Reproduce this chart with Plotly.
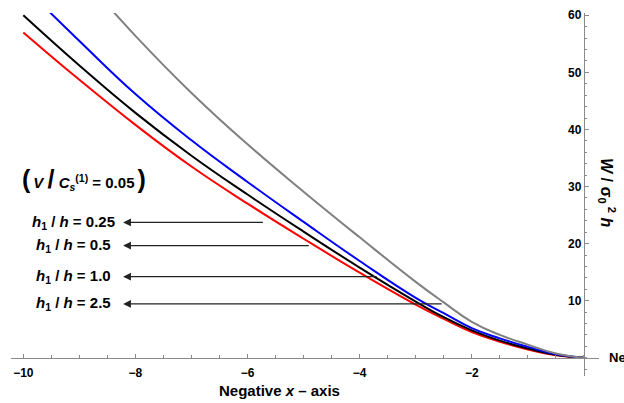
import plotly.graph_objects as go

# ---- data ----
x_vals = [-10, -9, -8, -7, -6, -5, -4, -3, -2.5, -2, -1.5, -1, -0.5, 0]
w_h025 = [57.0, 48.7, 40.8, 33.5, 27.0, 20.85, 14.9, 9.3, 6.8, 4.5, 2.8, 1.45, 0.42, 0]  # red
w_h05 = [60.0, 51.2, 42.9, 35.4, 28.6, 22.1, 15.8, 9.85, 7.1, 4.8, 3.0, 1.62, 0.5, 0]    # black
w_h10 = [65.1, 55.5, 46.2, 38.1, 30.8, 23.8, 16.95, 10.5, 7.8, 5.2, 3.4, 1.9, 0.6, 0]    # blue
w_h25 = [79.4, 67.4, 56.4, 46.4, 37.4, 29.1, 21.1, 13.3, 9.7, 6.3, 4.0, 2.3, 0.75, 0]    # gray

series = [
    ("h1/h=0.25", w_h025, "#ff0000"),
    ("h1/h=0.5", w_h05, "#000000"),
    ("h1/h=1.0", w_h10, "#0000ff"),
    ("h1/h=2.5", w_h25, "#808080"),
]

label_texts = ["0.25", "0.5", "1.0", "2.5"]
label_y = [23.7, 19.65, 14.2, 9.42]
arrow_tail_x = [-5.70, -4.88, -3.67, -2.51]
arrow_tip_x = -8.22
label_x = -9.10

x_ticks = [-10, -8, -6, -4, -2]
y_ticks = [10, 20, 30, 40, 50, 60]

FONT = "Liberation Sans, Arial, sans-serif"
AX = "#8a8a8a"

fig = go.Figure()
for name, ys, col in series:
    fig.add_trace(go.Scatter(x=x_vals, y=ys, mode="lines", name=name,
                             line=dict(color=col, width=2, shape="spline", smoothing=1.3,
                                       simplify=False),
                             showlegend=False, hoverinfo="skip"))

xr = [-10.22, 0.27]
yr = [-3.2, 60.4]

fig.update_layout(
    width=624, height=403,
    margin=dict(l=11, r=25, t=13, b=27, pad=0),
    plot_bgcolor="white", paper_bgcolor="white",
    font=dict(family=FONT, color="black"),
    xaxis=dict(range=xr, anchor="free", position=(0 - yr[0]) / (yr[1] - yr[0]),
               showgrid=False, zeroline=False, showline=True, linecolor=AX, linewidth=1,
               tickmode="array", tickvals=x_ticks,
               ticktext=["\u221210", "\u22128", "\u22126", "\u22124", "\u22122"],
               ticks="inside", ticklen=4, tickcolor=AX, tickwidth=1, ticklabelstandoff=4,
               tickfont=dict(family=FONT, size=12, color="black", weight="bold"),
               minor=dict(tickmode="linear", tick0=0, dtick=0.5, ticks="inside", ticklen=2.5,
                          tickcolor=AX, tickwidth=1, showgrid=False),
               automargin=False, fixedrange=True),
    yaxis=dict(range=yr, anchor="free", position=(0 - xr[0]) / (xr[1] - xr[0]), side="left",
               showgrid=False, zeroline=False, showline=True, linecolor=AX, linewidth=1,
               tickmode="array", tickvals=y_ticks,
               ticks="inside", ticklen=4, tickcolor=AX, tickwidth=1,
               tickfont=dict(family=FONT, size=12, color="black", weight="bold"),
               minor=dict(tickmode="linear", tick0=0, dtick=2, ticks="inside", ticklen=2.5,
                          tickcolor=AX, tickwidth=1, showgrid=False),
               automargin=False, fixedrange=True),
)

ann = []
# condition label
ann.append(dict(x=-8.92, y=31.3, xref="x", yref="y", showarrow=False,
                xanchor="center", yanchor="middle",
                text="<b><span style='font-size:25px'>(</span>\u2009<i>V</i> <span style='font-size:25px'>/</span> "
                     "<i>C<sub>s</sub></i><sup>(1)</sup> = 0.05\u2009<span style='font-size:25px'>)</span></b>",
                font=dict(family=FONT, size=15, color="black")))
for t, yv, tx in zip(label_texts, label_y, arrow_tail_x):
    ann.append(dict(x=label_x, y=yv, xref="x", yref="y", showarrow=False,
                    xanchor="center", yanchor="middle",
                    text="<b><i>h</i><sub>1</sub> / <i>h</i> = " + t + "</b>",
                    font=dict(family=FONT, size=15, color="black")))
    ann.append(dict(x=arrow_tip_x, y=yv, xref="x", yref="y", ax=tx, ay=yv, axref="x", ayref="y",
                    showarrow=True, arrowhead=2, arrowsize=1.3, arrowwidth=1.2,
                    arrowcolor="#222222", text="", standoff=0, startstandoff=0))
# axis titles (paper coordinates)
ann.append(dict(x=0.456, y=-0.0386, xref="paper", yref="paper", showarrow=False,
                xanchor="center", yanchor="middle",
                text="<b>Negative <i>x</i> \u2013 axis</b>",
                font=dict(family=FONT, size=15, color="black")))
ann.append(dict(x=1.0136, y=0.051, xref="paper", yref="paper", showarrow=False,
                xanchor="left", yanchor="middle",
                text="<b>Negative <i>x</i> \u2013 axis</b>",
                font=dict(family=FONT, size=13, color="black")))
ann.append(dict(x=1.0136, y=0.504, xref="paper", yref="paper", showarrow=False, textangle=90,
                xanchor="center", yanchor="middle",
                text="<b><i>W</i> / \u03c3<sub>0</sub><sup> 2</sup> <i>h</i></b>",
                font=dict(family=FONT, size=16, color="black")))
fig.update_layout(annotations=ann)

fig.write_html("out.html")
